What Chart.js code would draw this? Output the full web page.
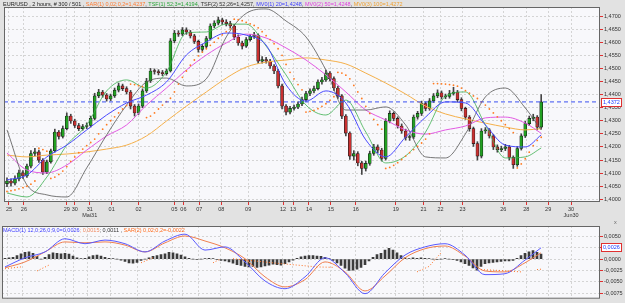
<!DOCTYPE html>
<html>
<head>
<meta charset="utf-8">
<script src="https://cdn.jsdelivr.net/npm/chart.js@4"></script>
<style>
body{margin:0;background:#e2e2e2;width:625px;height:303px;overflow:hidden;position:relative;font-family:"Liberation Sans",Arial,sans-serif}
canvas{position:absolute;left:0}
#main{top:0}
#macd{top:220px}
.ttl{position:absolute;left:3px;font-size:5.5px;line-height:8px;white-space:nowrap;color:#222}
</style>
</head>
<body>
<canvas id="main" width="625" height="222"></canvas>
<canvas id="macd" width="625" height="83"></canvas>
<div class="ttl" style="top:0">EUR/USD , 2 hours, # 300 / 501 , <span style="color:#ff7a30">SAR(1) 0,02;0,2=1,4237</span>, <span style="color:#2aa63a">TSF(1) 52;3=1,4194</span>, <span style="color:#333">TSF(2) 52;26=1,4257</span>, <span style="color:#3c3cff">MV0(1) 20=1,4248</span>, <span style="color:#e040e0">MV0(2) 50=1,4248</span>, <span style="color:#f0a030">MV0(3) 100=1,4272</span></div>
<div class="ttl" style="top:226px"><span style="color:#3c3cff">MACD(1) 12,0;26,0;9,0=0,0026</span><span style="color:#f08a60">; 0,0015</span><span style="color:#333">; 0,0011</span> , <span style="color:#ff6a1a">SAR(2) 0,02;0,2=-0,0022</span></div>
<div class="ttl" style="top:218px;left:614px;color:#666">x</div>
<script>
// candles, 2h bars (index 0 = first bar on the left)
var opens=[1.4060,1.4070,1.4062,1.4078,1.4101,1.4089,1.4127,1.4175,1.4181,1.4150,
1.4104,1.4143,1.4185,1.4257,1.4240,1.4270,1.4318,1.4299,1.4282,1.4270,
1.4278,1.4282,1.4309,1.4395,1.4410,1.4398,1.4383,1.4395,1.4417,1.4433,
1.4423,1.4410,1.4356,1.4330,1.4356,1.4414,1.4452,1.4490,1.4488,1.4484,
1.4480,1.4490,1.4605,1.4635,1.4631,1.4647,1.4639,1.4624,1.4603,1.4572,
1.4584,1.4614,1.4662,1.4673,1.4685,1.4677,1.4671,1.4662,1.4620,1.4597,
1.4585,1.4610,1.4622,1.4627,1.4528,1.4534,1.4528,1.4509,1.4490,1.4433,
1.4356,1.4333,1.4347,1.4352,1.4364,1.4381,1.4404,1.4414,1.4423,1.4448,
1.4456,1.4482,1.4461,1.4425,1.4395,1.4318,1.4253,1.4165,1.4175,1.4139,
1.4118,1.4137,1.4175,1.4200,1.4188,1.4156,1.4299,1.4328,1.4309,1.4280,
1.4261,1.4236,1.4238,1.4314,1.4328,1.4366,1.4347,1.4376,1.4395,1.4407,
1.4391,1.4393,1.4404,1.4410,1.4381,1.4347,1.4314,1.4270,1.4213,1.4165,
1.4261,1.4265,1.4242,1.4200,1.4190,1.4194,1.4200,1.4160,1.4132,1.4194,
1.4242,1.4289,1.4309,1.4314,1.4276];
var highs=[1.4082,1.4078,1.4090,1.4112,1.4110,1.4135,1.4186,1.4195,1.4188,1.4156,
1.4150,1.4192,1.4268,1.4263,1.4280,1.4330,1.4325,1.4306,1.4290,1.4286,
1.4292,1.4318,1.4405,1.4420,1.4416,1.4404,1.4402,1.4425,1.4444,1.4440,
1.4430,1.4416,1.4362,1.4364,1.4422,1.4462,1.4500,1.4498,1.4495,1.4492,
1.4498,1.4614,1.4645,1.4644,1.4656,1.4655,1.4645,1.4630,1.4608,1.4592,
1.4622,1.4670,1.4682,1.4696,1.4692,1.4686,1.4680,1.4668,1.4628,1.4604,
1.4618,1.4630,1.4638,1.4632,1.4545,1.4542,1.4535,1.4515,1.4496,1.4440,
1.4362,1.4355,1.4360,1.4372,1.4390,1.4412,1.4422,1.4432,1.4456,1.4466,
1.4494,1.4488,1.4468,1.4432,1.4400,1.4324,1.4258,1.4186,1.4182,1.4145,
1.4146,1.4184,1.4210,1.4208,1.4195,1.4308,1.4338,1.4334,1.4315,1.4288,
1.4268,1.4246,1.4322,1.4336,1.4375,1.4372,1.4385,1.4404,1.4418,1.4414,
1.4402,1.4416,1.4428,1.4416,1.4388,1.4352,1.4320,1.4276,1.4220,1.4270,
1.4274,1.4270,1.4248,1.4208,1.4203,1.4210,1.4206,1.4166,1.4202,1.4250,
1.4298,1.4318,1.4325,1.4320,1.4400];
var lows=[1.4048,1.4050,1.4055,1.4070,1.4080,1.4084,1.4120,1.4166,1.4141,1.4095,
1.4098,1.4138,1.4180,1.4230,1.4234,1.4265,1.4290,1.4274,1.4262,1.4264,
1.4270,1.4276,1.4303,1.4388,1.4390,1.4375,1.4377,1.4389,1.4410,1.4415,
1.4402,1.4345,1.4318,1.4324,1.4350,1.4408,1.4446,1.4478,1.4475,1.4472,
1.4474,1.4486,1.4598,1.4622,1.4625,1.4630,1.4616,1.4595,1.4562,1.4565,
1.4578,1.4608,1.4655,1.4666,1.4668,1.4662,1.4654,1.4610,1.4588,1.4574,
1.4580,1.4604,1.4614,1.4518,1.4520,1.4520,1.4500,1.4480,1.4425,1.4345,
1.4322,1.4326,1.4340,1.4346,1.4358,1.4375,1.4396,1.4406,1.4418,1.4440,
1.4450,1.4452,1.4416,1.4385,1.4308,1.4242,1.4152,1.4150,1.4128,1.4095,
1.4108,1.4130,1.4168,1.4178,1.4146,1.4150,1.4292,1.4300,1.4272,1.4252,
1.4226,1.4225,1.4232,1.4306,1.4320,1.4338,1.4340,1.4370,1.4388,1.4383,
1.4384,1.4386,1.4398,1.4372,1.4338,1.4305,1.4260,1.4202,1.4150,1.4158,
1.4252,1.4234,1.4190,1.4180,1.4182,1.4186,1.4150,1.4118,1.4126,1.4188,
1.4236,1.4282,1.4300,1.4265,1.4268];
var closes=[1.4070,1.4062,1.4078,1.4101,1.4089,1.4127,1.4175,1.4181,1.4150,1.4104,
1.4143,1.4185,1.4257,1.4240,1.4270,1.4318,1.4299,1.4282,1.4270,1.4278,
1.4282,1.4309,1.4395,1.4410,1.4398,1.4383,1.4395,1.4417,1.4433,1.4423,
1.4410,1.4356,1.4330,1.4356,1.4414,1.4452,1.4490,1.4488,1.4484,1.4480,
1.4490,1.4605,1.4635,1.4631,1.4647,1.4639,1.4624,1.4603,1.4572,1.4584,
1.4614,1.4662,1.4673,1.4685,1.4677,1.4671,1.4662,1.4620,1.4597,1.4585,
1.4610,1.4622,1.4627,1.4528,1.4534,1.4528,1.4509,1.4490,1.4433,1.4356,
1.4333,1.4347,1.4352,1.4364,1.4381,1.4404,1.4414,1.4423,1.4448,1.4456,
1.4482,1.4461,1.4425,1.4395,1.4318,1.4253,1.4165,1.4175,1.4139,1.4118,
1.4137,1.4175,1.4200,1.4188,1.4156,1.4299,1.4328,1.4309,1.4280,1.4261,
1.4236,1.4238,1.4314,1.4328,1.4366,1.4347,1.4376,1.4395,1.4407,1.4391,
1.4393,1.4404,1.4410,1.4381,1.4347,1.4314,1.4270,1.4213,1.4165,1.4261,
1.4265,1.4242,1.4200,1.4190,1.4194,1.4200,1.4160,1.4132,1.4194,1.4242,
1.4289,1.4309,1.4314,1.4276,1.4372];
// parabolic SAR(1), one dot per bar
var sar=[1.4030,1.4033,1.4036,1.4040,1.4045,1.4050,1.4058,1.4070,1.4195,1.4190,
1.4184,1.4080,1.4085,1.4095,1.4108,1.4125,1.4145,1.4162,1.4178,1.4192,
1.4205,1.4217,1.4230,1.4250,1.4268,1.4285,1.4300,1.4315,1.4330,1.4345,
1.4358,1.4440,1.4438,1.4434,1.4430,1.4312,1.4318,1.4330,1.4345,1.4360,
1.4373,1.4386,1.4410,1.4440,1.4466,1.4490,1.4512,1.4532,1.4548,1.4562,
1.4575,1.4588,1.4600,1.4615,1.4628,1.4640,1.4650,1.4688,1.4686,1.4682,
1.4676,1.4670,1.4664,1.4655,1.4640,1.4625,1.4610,1.4594,1.4575,1.4550,
1.4515,1.4485,1.4460,1.4438,1.4418,1.4333,1.4336,1.4340,1.4346,1.4355,
1.4365,1.4378,1.4392,1.4485,1.4482,1.4474,1.4460,1.4435,1.4410,1.4385,
1.4355,1.4328,1.4305,1.4285,1.4268,1.4118,1.4122,1.4130,1.4140,1.4152,
1.4165,1.4178,1.4190,1.4202,1.4215,1.4230,1.4250,1.4442,1.4442,1.4441,
1.4440,1.4438,1.4436,1.4432,1.4425,1.4415,1.4405,1.4395,1.4385,1.4372,
1.4360,1.4345,1.4330,1.4315,1.4300,1.4285,1.4270,1.4255,1.4120,1.4135,
1.4155,1.4180,1.4205,1.4225,1.4237];

// indicator lines, read every 5th bar
var lineIdx=[0,5,10,15,20,25,30,35,40,45,50,55,60,65,70,75,80,85,90,95,100,105,110,115,120,125,130,134];
var mv20=[1.4074,1.4093,1.4162,1.4207,1.4265,1.4322,1.4368,1.4398,1.4448,1.4551,1.4601,1.4635,1.4627,1.4589,1.4437,1.4375,1.4414,1.4368,1.4227,1.4162,1.4238,1.4314,1.4372,1.4368,1.4284,1.4207,1.4200,1.4246];
var mv50=[1.4177,1.4112,1.4101,1.4131,1.4188,1.4242,1.4284,1.4360,1.4425,1.4494,1.4551,1.4597,1.4631,1.4616,1.4578,1.4532,1.4475,1.4410,1.4341,1.4303,1.4265,1.4249,1.4265,1.4280,1.4311,1.4314,1.4291,1.4252];
var mv100=[1.4169,1.4162,1.4169,1.4173,1.4181,1.4192,1.4207,1.4242,1.4299,1.4356,1.4410,1.4463,1.4505,1.4524,1.4532,1.4540,1.4532,1.4517,1.4482,1.4444,1.4402,1.4356,1.4326,1.4307,1.4291,1.4276,1.4265,1.4270];
var tsf1=[1.4024,1.4009,1.4085,1.4207,1.4284,1.4414,1.4456,1.4425,1.4486,1.4635,1.4639,1.4669,1.4669,1.4585,1.4475,1.4360,1.4322,1.4379,1.4257,1.4139,1.4166,1.4257,1.4394,1.4410,1.4284,1.4158,1.4162,1.4196];
var tsf2=[1.4265,1.4055,1.4017,1.4009,1.4120,1.4246,1.4360,1.4448,1.4463,1.4433,1.4460,1.4620,1.4710,1.4727,1.4681,1.4620,1.4494,1.4341,1.4341,1.4353,1.4284,1.4162,1.4158,1.4250,1.4391,1.4425,1.4349,1.4265];
var lastPrice=1.4372;

// MACD panel
var macdLine=[-0.0017,0.0003,0.0016,0.0045,0.0034,0.0042,0.0034,0.0016,0.0040,0.0055,0.0020,0.0027,-0.0006,-0.0048,-0.0065,-0.0039,0.0003,-0.0030,-0.0076,-0.0030,0.0009,0.0027,0.0034,0.0009,-0.0034,-0.0032,-0.0002,0.0025];
var signalLine=[-0.0019,-0.0006,0.0016,0.0038,0.0036,0.0038,0.0031,0.0016,0.0036,0.0051,0.0040,0.0025,0.0001,-0.0039,-0.0061,-0.0045,-0.0006,-0.0028,-0.0070,-0.0037,0.0003,0.0023,0.0029,0.0007,-0.0026,-0.0028,-0.0008,0.0014];
var histo=[0.0002,0.0003,0.0004,0.0008,0.0012,0.0015,0.0016,0.0013,0.0006,0.0000,
0.0004,0.0010,0.0014,0.0013,0.0012,0.0013,0.0011,0.0007,0.0003,0.0001,
0.0002,0.0005,0.0008,0.0009,0.0007,0.0004,0.0002,0.0001,0.0000,-0.0002,
-0.0005,-0.0008,-0.0009,-0.0007,-0.0003,0.0000,0.0003,0.0006,0.0008,0.0010,
0.0012,0.0015,0.0014,0.0012,0.0009,0.0005,0.0002,0.0000,-0.0001,0.0000,
0.0001,0.0002,0.0001,-0.0001,-0.0003,-0.0004,-0.0006,-0.0009,-0.0012,-0.0014,
-0.0016,-0.0017,-0.0016,-0.0018,-0.0017,-0.0015,-0.0013,-0.0011,-0.0012,-0.0013,
-0.0010,-0.0006,-0.0002,0.0002,0.0005,0.0007,0.0008,0.0008,0.0007,0.0006,
0.0004,0.0001,-0.0003,-0.0008,-0.0014,-0.0020,-0.0025,-0.0024,-0.0022,-0.0018,
-0.0012,-0.0004,0.0004,0.0010,0.0013,0.0020,0.0024,0.0020,0.0014,0.0008,
0.0003,0.0001,0.0003,0.0002,0.0003,0.0002,0.0001,0.0000,-0.0001,0.0000,
0.0001,0.0000,-0.0001,-0.0003,-0.0006,-0.0010,-0.0014,-0.0019,-0.0024,-0.0016,
-0.0010,-0.0008,-0.0007,-0.0006,-0.0005,-0.0004,-0.0004,-0.0003,0.0002,0.0008,
0.0013,0.0016,0.0019,0.0015,0.0011];
// SAR(2) on the MACD, null = break between runs
var macdSarX=[0,4,null,8,11,null,34,37,null,52,54,null,57,68,78,82,null,103,106,109,null,119,124,129,null,133,134];
var macdSarY=[-0.0021,-0.0017,null,-0.0026,-0.0013,null,-0.0008,0.0003,null,-0.0008,0.0001,null,0.0001,-0.0009,-0.0017,-0.0018,null,-0.0028,-0.0016,0.0014,null,-0.0023,-0.0025,-0.0028,null,-0.0023,-0.0022];
var macdLast=0.0026;

// axes
var dateTicks=[0.5,4.25,15,17,20.75,26.25,33,42,44.25,48.25,53.75,60.5,69.25,71.75,75.75,81.25,87.5,97.5,104.5,108.75,114.25,124.5,130.25,135.75,141.5];
var dateLabels=['25','26','29','30',['31','Mai31'],'01','02','05','06','07','08','09','12','13','14','15','16','19','21','22','23','26','28','29',['30','Jun30']];
var priceTicks=[1.40,1.405,1.41,1.415,1.42,1.425,1.43,1.435,1.44,1.445,1.45,1.455,1.46,1.465,1.47];
var macdTicks=[-0.0075,-0.005,-0.0025,0,0.0025,0.005];

Chart.defaults.font.family='"Liberation Sans", Arial, sans-serif';
Chart.defaults.font.size=5.5;
Chart.defaults.color='#333';

function comma(v){ return v.toFixed(4).replace('.',','); }
function pts(xs,ys){ return xs.map(function(x,i){ return {x:x, y:ys[i]}; }); }

function panelPlugin(lastVal){
  return {
    id:'panel',
    beforeDraw:function(chart){
      var a=chart.chartArea, ctx=chart.ctx;
      ctx.save(); ctx.fillStyle='#f8f8fb';
      ctx.fillRect(a.left,a.top,a.right-a.left,a.bottom-a.top); ctx.restore();
    },
    afterDraw:function(chart){
      var a=chart.chartArea, ctx=chart.ctx;
      ctx.save();
      ctx.strokeStyle='#666'; ctx.lineWidth=1;
      ctx.strokeRect(a.left+0.5,a.top+0.5,a.right-a.left-1,a.bottom-a.top-1);
      var y=Math.round(chart.scales.y.getPixelForValue(lastVal));
      ctx.fillStyle='#fff'; ctx.fillRect(601,y-4,21,8);
      ctx.strokeStyle='#e03030'; ctx.strokeRect(601.5,y-3.5,20,8);
      ctx.fillStyle='#2040ff'; ctx.font='5.5px "Liberation Sans", Arial';
      ctx.textBaseline='middle'; ctx.fillText(comma(lastVal),603,y+0.5);
      ctx.restore();
    }
  };
}

function xAxis(showLabels,h){
  return {
    type:'linear', min:-0.75, max:148.75, offset:false,
    afterBuildTicks:function(s){ s.ticks=dateTicks.map(function(v){ return {value:v}; }); },
    afterFit:function(s){ s.height=h; },
    grid:{color:'#d4d4d4', tickColor:'#e03030', tickLength:3, drawTicks:showLabels, offset:false},
    border:{display:false, dash:[2,2]},
    ticks:{display:showLabels, autoSkip:false, maxRotation:0, padding:1,
      callback:function(v,i){ return dateLabels[i]; }}
  };
}

var candleColors=closes.map(function(c,i){ return c>=opens[i] ? '#22a022' : '#c83030'; });

new Chart(document.getElementById('main'),{
  type:'bar',
  data:{datasets:[
    {type:'bar', data:closes.map(function(c,i){ return {x:i, y:[lows[i],highs[i]]}; }),
     backgroundColor:'#444', barThickness:1, grouped:false, order:20},
    {type:'bar', data:closes.map(function(c,i){ return {x:i, y:[opens[i],c]}; }),
     backgroundColor:candleColors, borderColor:'#1a1a1a', borderWidth:0.6, borderSkipped:false,
     barThickness:3, minBarLength:1, grouped:false, order:19},
    {type:'line', data:pts(lineIdx,mv100), borderColor:'#f5b04a', borderWidth:1, pointRadius:0, tension:0.4, cubicInterpolationMode:'monotone', order:6},
    {type:'line', data:pts(lineIdx,mv50), borderColor:'#e35ae3', borderWidth:1, pointRadius:0, cubicInterpolationMode:'monotone', order:5},
    {type:'line', data:pts(lineIdx,tsf2), borderColor:'#555', borderWidth:0.8, pointRadius:0, cubicInterpolationMode:'monotone', order:4},
    {type:'line', data:pts(lineIdx,tsf1), borderColor:'#3cb050', borderWidth:0.8, pointRadius:0, cubicInterpolationMode:'monotone', order:3},
    {type:'line', data:pts(lineIdx,mv20), borderColor:'#4a4aff', borderWidth:1, pointRadius:0, cubicInterpolationMode:'monotone', order:2},
    {type:'line', data:sar.map(function(v,i){ return {x:i, y:v}; }), showLine:false,
     pointRadius:0.9, pointBorderWidth:0, pointBackgroundColor:'#ff7a20', order:1},
    {type:'line', data:[{x:-0.75,y:lastPrice},{x:148.75,y:lastPrice}], borderColor:'#3a50f0',
     borderWidth:1, borderDash:[4,3], pointRadius:0, order:0}
  ]},
  options:{
    responsive:false, devicePixelRatio:1, animation:false, events:[],
    layout:{padding:{left:2, top:7, right:0, bottom:0}},
    plugins:{legend:{display:false}, tooltip:{enabled:false}},
    scales:{
      x:xAxis(true,20),
      y:{type:'linear', position:'right', min:1.39898, max:1.47344,
        afterBuildTicks:function(s){ s.ticks=priceTicks.map(function(v){ return {value:v}; }); },
        afterFit:function(s){ s.width=25; },
        grid:{color:'#d4d4d4', tickColor:'#e03030', tickLength:3},
        border:{display:false, dash:[2,2]},
        ticks:{padding:1, callback:comma}}
    }
  },
  plugins:[panelPlugin(lastPrice)]
});

new Chart(document.getElementById('macd'),{
  type:'bar',
  data:{datasets:[
    {type:'bar', data:histo.map(function(v,i){ return {x:i, y:v}; }),
     backgroundColor:'#3c3c3c', barThickness:2, grouped:false, order:10},
    {type:'line', data:pts(lineIdx,signalLine), borderColor:'#f08050', borderWidth:1, pointRadius:0, cubicInterpolationMode:'monotone', order:3},
    {type:'line', data:pts(lineIdx,macdLine), borderColor:'#5a5aff', borderWidth:1, pointRadius:0, cubicInterpolationMode:'monotone', order:2},
    {type:'line', data:pts(macdSarX,macdSarY), borderColor:'#ff7020', borderWidth:1, borderDash:[1,2],
     pointRadius:0, spanGaps:false, order:1}
  ]},
  options:{
    responsive:false, devicePixelRatio:1, animation:false, events:[],
    layout:{padding:{left:2, top:6, right:0, bottom:0}},
    plugins:{legend:{display:false}, tooltip:{enabled:false}},
    scales:{
      x:xAxis(false,4),
      y:{type:'linear', position:'right', min:-0.0087, max:0.0073,
        afterBuildTicks:function(s){ s.ticks=macdTicks.map(function(v){ return {value:v}; }); },
        afterFit:function(s){ s.width=25; },
        grid:{color:'#d4d4d4', tickColor:'#e03030', tickLength:3},
        border:{display:false, dash:[2,2]},
        ticks:{padding:1, callback:comma}}
    }
  },
  plugins:[panelPlugin(macdLast)]
});
</script>
</body>
</html>
